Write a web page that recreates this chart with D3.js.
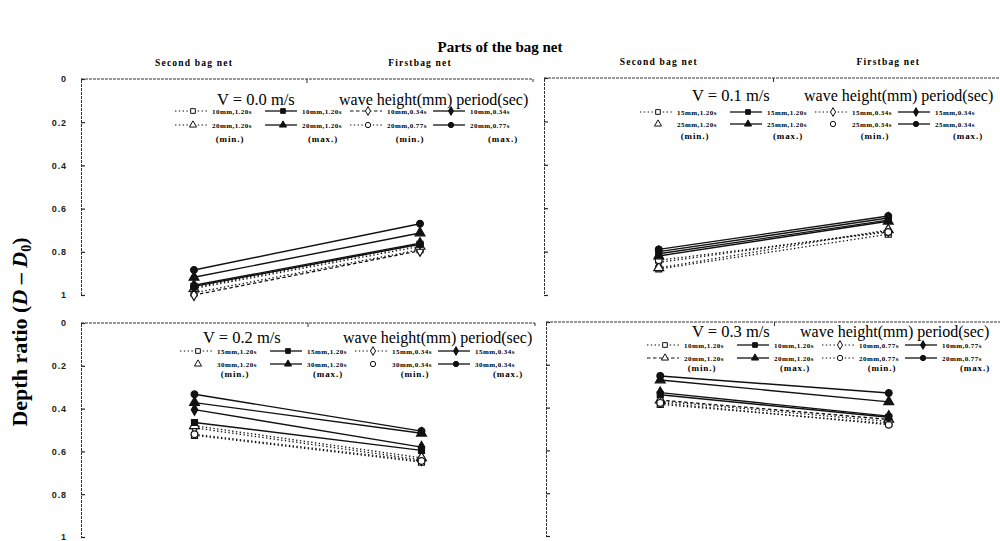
<!DOCTYPE html>
<html>
<head>
<meta charset="utf-8">
<script src="https://cdn.jsdelivr.net/npm/d3@7"></script>
<style>
  html, body { margin: 0; padding: 0; background: #fff; }
  svg { display: block; }
</style>
</head>
<body>
<svg id="chart" width="1000" height="541"></svg>
<script>
// ---------------- DATA ----------------
const chartTitle = "Parts of the bag net";
const categories = ["Second bag net", "Firstbag net"];
const yTicks = [0, 0.2, 0.4, 0.6, 0.8, 1];
const yTickLabels = ["0", "0.2", "0.4", "0.6", "0.8", "1"];
const speeds = ["V = 0.0 m/s", "V = 0.1 m/s", "V = 0.2 m/s", "V = 0.3 m/s"];
const legendHeader = "wave height(mm) period(sec)";
const subLabels = ["(min.)", "(max.)", "(min.)", "(max.)"];

// series order: row1 col1..4, row2 col1..4  (□ ■ ◇ ◆ △ ▲ ○ ●)
const p1Labels = ["10mm,1.20s", "10mm,1.20s", "10mm,0.34s", "10mm,0.34s", "20mm,1.20s", "20mm,1.20s", "20mm,0.77s", "20mm,0.77s"];
const p1Second = [0.99, 0.96, 1.0, 0.955, 0.97, 0.918, 0.965, 0.884];
const p1First  = [0.79, 0.765, 0.795, 0.76, 0.775, 0.713, 0.765, 0.67];

const p2Labels = ["15mm,1.20s", "15mm,1.20s", "15mm,0.34s", "15mm,0.34s", "25mm,1.20s", "25mm,1.20s", "25mm,0.34s", "25mm,0.34s"];
const p2Second = [0.88, 0.81, 0.85, 0.80, 0.875, 0.82, 0.84, 0.79];
const p2First  = [0.72, 0.655, 0.705, 0.645, 0.70, 0.66, 0.71, 0.636];

const p3Labels = ["15mm,1.20s", "15mm,1.20s", "15mm,0.34s", "15mm,0.34s", "30mm,1.20s", "30mm,1.20s", "30mm,0.34s", "30mm,0.34s"];
const p3Second = [0.525, 0.465, 0.49, 0.405, 0.48, 0.372, 0.52, 0.333];
const p3First  = [0.65, 0.595, 0.64, 0.58, 0.63, 0.515, 0.645, 0.505];

const p4Labels = ["10mm,1.20s", "10mm,1.20s", "10mm,0.77s", "10mm,0.77s", "20mm,1.20s", "20mm,1.20s", "20mm,0.77s", "20mm,0.77s"];
const p4Second = [0.385, 0.34, 0.37, 0.33, 0.365, 0.271, 0.378, 0.252];
const p4First  = [0.475, 0.445, 0.465, 0.44, 0.455, 0.373, 0.48, 0.332];

// ---------------- STYLES / LAYOUT ----------------
const markerTypes = [d3.symbolSquare, d3.symbolSquare, d3.symbolDiamond, d3.symbolDiamond,
                     d3.symbolTriangle, d3.symbolTriangle, d3.symbolCircle, d3.symbolCircle];
const markerFilled = [false, true, false, true, false, true, false, true];
const dashes = { solid: null, dot: "1.4,2.4", dash: "3.5,2.5" };

const panels = [
  { left: 81, right: 533, top: 79, bottom: 295, tickLabels: true, cats: true,
    labels: p1Labels, second: p1Second, first: p1First,
    styles: ["dot","solid","dash","solid","dot","solid","dot","solid"],
    legendLine: [1,1,1,1,1,1,1,1],
    L: 175, vx: 42, wx: 164, ty: 105, rows: [111, 125, 139] },
  { left: 544, right: 1003, top: 78, bottom: 295, tickLabels: false, cats: true,
    labels: p2Labels, second: p2Second, first: p2First,
    styles: ["dot","solid","dot","solid","dot","solid","dot","solid"],
    legendLine: [1,1,1,1,0,1,0,1],
    L: 640, vx: 52, wx: 164, ty: 101, rows: [112, 124, 136] },
  { left: 81, right: 535, top: 323, bottom: 537, tickLabels: true, cats: false,
    labels: p3Labels, second: p3Second, first: p3First,
    styles: ["dot","solid","dot","solid","dot","solid","dot","solid"],
    legendLine: [1,1,1,1,0,1,0,1],
    L: 180, vx: 23, wx: 163, ty: 343, rows: [351, 364, 374] },
  { left: 546, right: 1003, top: 322, bottom: 536, tickLabels: false, cats: false,
    labels: p4Labels, second: p4Second, first: p4First,
    styles: ["dot","solid","dot","solid","dash","solid","dot","solid"],
    legendLine: [1,1,1,1,1,1,1,1],
    L: 647, vx: 45, wx: 153, ty: 337, rows: [345, 358, 368] }
];

const colStart = [0, 90, 175, 258];
const subCenter = [55, 148, 235, 328];

const serif = "'Liberation Serif', 'Times New Roman', serif";
const svg = d3.select("#chart");
svg.append("rect").attr("width", 1000).attr("height", 541).attr("fill", "#fff");

// Title
svg.append("text")
  .attr("x", 500).attr("y", 52)
  .attr("text-anchor", "middle")
  .attr("font-family", serif)
  .attr("font-weight", "bold").attr("font-size", 15)
  .text(chartTitle);

// Y axis label
const yl = svg.append("text")
  .attr("transform", "translate(27,332) rotate(-90)")
  .attr("text-anchor", "middle")
  .attr("font-family", serif)
  .attr("font-weight", "bold").attr("font-size", 22);
yl.append("tspan").text("Depth ratio (");
yl.append("tspan").attr("font-style", "italic").text("D");
yl.append("tspan").text(" \u2013 ");
yl.append("tspan").attr("font-style", "italic").text("D");
yl.append("tspan").attr("font-size", 14).attr("dy", 4).text("0");
yl.append("tspan").attr("dy", -4).text(")");

panels.forEach((p, pi) => {
  const g = svg.append("g");
  const x = d3.scalePoint().domain(categories).range([p.left, p.right]).padding(0.5);
  const y = d3.scaleLinear().domain([0, 1]).range([p.top, p.bottom]);

  // left axis
  const axis = d3.axisLeft(y).tickValues(yTicks).tickSize(-4).tickPadding(p.tickLabels ? 14 : 0)
    .tickFormat((d, i) => p.tickLabels ? yTickLabels[i] : "");
  const ag = g.append("g").attr("transform", `translate(${p.left},0)`).call(axis);
  ag.select(".domain").attr("stroke", "#333").attr("stroke-width", 1).attr("stroke-dasharray", "3,1");
  ag.selectAll(".tick line").attr("stroke", "#222").attr("stroke-width", 1.2);
  ag.selectAll(".tick text")
    .attr("font-family", "'Liberation Sans', Arial, sans-serif")
    .attr("font-weight", "bold").attr("font-size", 9)
    .attr("letter-spacing", 0.9).attr("fill", "#222");

  // top border line
  g.append("line")
    .attr("x1", p.left).attr("x2", p.right).attr("y1", p.top).attr("y2", p.top)
    .attr("stroke", "#333").attr("stroke-width", 1).attr("stroke-dasharray", "3,1");
  g.append("line")
    .attr("x1", p.right).attr("x2", p.right).attr("y1", p.top).attr("y2", p.top + 3)
    .attr("stroke", "#333").attr("stroke-width", 1);
  const mid = (x(categories[0]) + x(categories[1])) / 2;
  g.append("line")
    .attr("x1", mid).attr("x2", mid).attr("y1", p.top).attr("y2", p.top + 4)
    .attr("stroke", "#333").attr("stroke-width", 1);

  // category labels
  if (p.cats) {
    categories.forEach(c => {
      g.append("text")
        .attr("x", x(c)).attr("y", p.top - 13)
        .attr("text-anchor", "middle")
        .attr("font-family", serif)
        .attr("font-weight", "bold").attr("font-size", 9.5)
        .attr("letter-spacing", 1.2)
        .text(c);
    });
  }

  // data lines
  const series = p.labels.map((lab, i) => ({
    i, lab, vals: [{ c: categories[0], v: p.second[i] }, { c: categories[1], v: p.first[i] }]
  }));
  const line = d3.line().x(d => x(d.c)).y(d => y(d.v));
  const order = series.slice().sort((a, b) => (p.styles[a.i] === "solid") - (p.styles[b.i] === "solid"));
  order.forEach(s => {
    const st = p.styles[s.i];
    g.append("path")
      .attr("d", line(s.vals))
      .attr("fill", "none")
      .attr("stroke", "#111")
      .attr("stroke-width", st === "solid" ? 1.4 : 1.3)
      .attr("stroke-dasharray", dashes[st]);
  });
  order.forEach(s => {
    s.vals.forEach(d => {
      g.append("path")
        .attr("d", d3.symbol().type(markerTypes[s.i]).size(markerTypes[s.i] === d3.symbolTriangle ? 42 : 36)())
        .attr("transform", `translate(${x(d.c)},${y(d.v)})`)
        .attr("fill", markerFilled[s.i] ? "#111" : "#fff")
        .attr("stroke", "#111").attr("stroke-width", 1.2);
    });
  });

  // legend
  const lg = svg.append("g").attr("transform", `translate(${p.L},0)`);
  lg.append("text")
    .attr("x", p.vx).attr("y", p.ty)
    .attr("font-family", serif)
    .attr("font-size", 16.5)
    .text(speeds[pi]);
  lg.append("text")
    .attr("x", p.wx).attr("y", p.ty)
    .attr("font-family", serif)
    .attr("font-size", 16)
    .text(legendHeader);

  p.labels.forEach((lab, i) => {
    const col = i % 4, row = Math.floor(i / 4);
    const cx = colStart[col];
    const ry = p.rows[row];
    const st = p.styles[i];
    if (p.legendLine[i]) {
      lg.append("line")
        .attr("x1", cx).attr("x2", cx + 32).attr("y1", ry).attr("y2", ry)
        .attr("stroke", "#111")
        .attr("stroke-width", st === "solid" ? 1.3 : 1.1)
        .attr("stroke-dasharray", dashes[st]);
    }
    lg.append("path")
      .attr("d", d3.symbol().type(markerTypes[i]).size(22)())
      .attr("transform", `translate(${cx + 18},${ry})`)
      .attr("fill", markerFilled[i] ? "#111" : "#fff")
      .attr("stroke", "#111").attr("stroke-width", 1);
    lg.append("text")
      .attr("x", cx + 37).attr("y", ry + 2.5)
      .attr("font-family", serif)
      .attr("font-weight", "bold").attr("font-size", 7)
      .attr("letter-spacing", 0.45)
      .text(lab);
  });
  subLabels.forEach((s, k) => {
    lg.append("text")
      .attr("x", subCenter[k]).attr("y", p.rows[2] + 3)
      .attr("text-anchor", "middle")
      .attr("font-family", serif)
      .attr("font-weight", "bold").attr("font-size", 9)
      .attr("letter-spacing", 0.9)
      .text(s);
  });
});
</script>
</body>
</html>
